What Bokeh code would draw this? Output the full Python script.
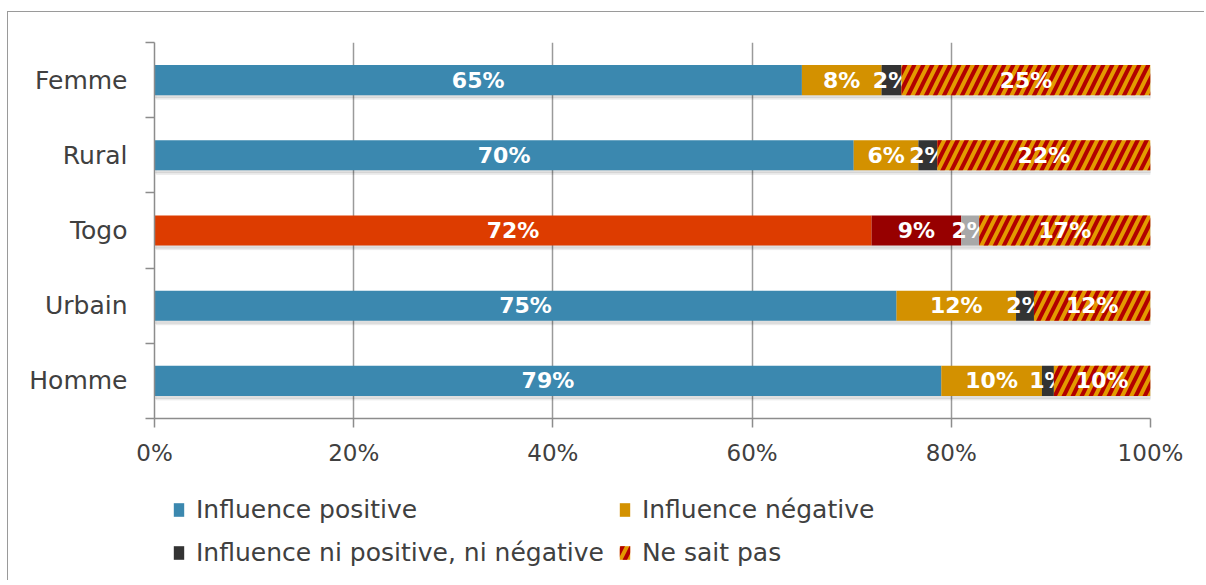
from bokeh.plotting import figure
from bokeh.layouts import column
from bokeh.models import Range1d, FixedTicker, Legend, LegendItem, ColumnDataSource
from bokeh.core.properties import value
from bokeh.embed import file_html
from bokeh.resources import INLINE

# ---- data (top to bottom as displayed) ----
categories = ["Femme", "Rural", "Togo", "Urbain", "Homme"]
positive = [65.0, 70.2, 72.0, 74.5, 79.0]
negative = [8.0, 6.5, 9.0, 12.0, 10.1]
neutral = [2.0, 1.9, 1.8, 1.8, 1.2]
ne_sait_pas = [25.0, 21.4, 17.2, 11.7, 9.7]

positive_lbl = [65, 70, 72, 75, 79]
negative_lbl = [8, 6, 9, 12, 10]
neutral_lbl = [2, 2, 2, 2, 1]
ne_sait_pas_lbl = [25, 22, 17, 12, 10]

series_names = ["Influence positive", "Influence négative",
                "Influence ni positive, ni négative", "Ne sait pas"]
x_ticks = [0, 20, 40, 60, 80, 100]

# ---- styles ----
BLUE, ORANGE, DARK = "#3B88AF", "#D39100", "#333333"
TOGO_RED, TOGO_DARKRED, TOGO_GRAY = "#DD3C00", "#970000", "#A8A8A8"
HATCH_BG, HATCH_FG = "#E39A00", "#B20000"
FONT = "DejaVu Sans"
TEXT_COL = "#404040"
AXIS_COL = "#8C8C8C"
HATCH = dict(hatch_pattern="/", hatch_color=HATCH_FG, hatch_scale=18, hatch_weight=4)

n = len(categories)
ys = [n - 0.5 - i for i in range(n)]
togo = categories.index("Togo")

W = 1196
p = figure(width=W, height=468, x_range=Range1d(0, 100), y_range=Range1d(0, n),
           output_backend="svg", toolbar_location=None,
           min_border_left=146, min_border_right=54, min_border_top=30, min_border_bottom=62)
p.outline_line_color = None

# axes
p.xaxis.ticker = FixedTicker(ticks=x_ticks)
p.xaxis.major_label_overrides = {t: f"{t}%" for t in x_ticks}
p.xaxis.major_tick_out = 9
p.xaxis.major_tick_in = 0
p.xaxis.minor_tick_out = 0
p.xaxis.minor_tick_in = 0
p.xaxis.major_label_standoff = 12

p.yaxis.ticker = FixedTicker(ticks=ys, minor_ticks=list(range(n + 1)))
p.yaxis.major_label_overrides = {y: c for y, c in zip(ys, categories)}
p.yaxis.major_tick_out = 0
p.yaxis.major_tick_in = 0
p.yaxis.minor_tick_out = 9
p.yaxis.minor_tick_in = 0
p.yaxis.major_label_standoff = 18

for ax in (p.xaxis, p.yaxis):
    ax.axis_line_color = AXIS_COL
    ax.axis_line_width = 1.5
    ax.major_tick_line_color = AXIS_COL
    ax.major_tick_line_width = 1.5
    ax.minor_tick_line_color = AXIS_COL
    ax.minor_tick_line_width = 1.5
    ax.major_label_text_font = FONT
    ax.major_label_text_color = TEXT_COL
p.xaxis.major_label_text_font_size = "23px"
p.yaxis.major_label_text_font_size = "25px"

p.ygrid.visible = False
p.xgrid.ticker = FixedTicker(ticks=x_ticks)
p.xgrid.grid_line_color = "#9A9A9A"
p.xgrid.grid_line_width = 1.5

# shadows
H = 0.4
p.hbar(y=[y - 0.035 for y in ys], left=0, right=100, height=H, color="black", alpha=0.08)
p.hbar(y=[y - 0.055 for y in ys], left=0.2, right=100.3, height=H, color="black", alpha=0.05)

# stacked bars
series = [positive, negative, neutral, ne_sait_pas]
labels = [positive_lbl, negative_lbl, neutral_lbl, ne_sait_pas_lbl]
normal_cols = [BLUE, ORANGE, DARK, None]
togo_cols = [TOGO_RED, TOGO_DARKRED, TOGO_GRAY, None]

left = [0.0] * n
for k, vals in enumerate(series):
    right = [l + v for l, v in zip(left, vals)]
    src = ColumnDataSource(dict(
        y=ys, left=left, right=right,
        mid=[(l + r) / 2 for l, r in zip(left, right)],
        txt=[f"{v}%" for v in labels[k]],
        color=[(togo_cols[k] if i == togo else normal_cols[k]) for i in range(n)],
    ))
    if normal_cols[k] is None:
        p.hbar(y="y", left="left", right="right", height=H, source=src,
               fill_color=HATCH_BG, line_color=None, **HATCH)
    else:
        p.hbar(y="y", left="left", right="right", height=H, source=src,
               fill_color="color", line_color=None)
    p.text(x="mid", y="y", text="txt", source=src, text_color="white",
           text_font=value(FONT), text_font_style="bold", text_font_size="22px",
           text_align="center", text_baseline="middle")
    left = right

# ---- legend strip (separate figure so the legend is not clipped) ----
q = figure(width=W, height=100, x_range=Range1d(0, 1), y_range=Range1d(0, 1),
           output_backend="svg", toolbar_location=None,
           x_axis_type=None, y_axis_type=None,
           min_border_left=0, min_border_right=0, min_border_top=0, min_border_bottom=0)
q.outline_line_color = None
q.xgrid.visible = False
q.ygrid.visible = False

leg_renderers = []
for k in range(4):
    if normal_cols[k] is None:
        r = q.hbar(y=[-5], left=[0], right=[1], height=0.5,
                   fill_color=HATCH_BG, line_color=None, **HATCH)
    else:
        r = q.hbar(y=[-5], left=[0], right=[1], height=0.5,
                   fill_color=normal_cols[k], line_color=None)
    leg_renderers.append(r)

order = [0, 2, 1, 3]  # column-major fill: col1 = positive, neutral; col2 = negative, ne sait pas
legend = Legend(items=[LegendItem(label=series_names[k], renderers=[leg_renderers[k]], index=0)
                       for k in order],
                ncols=2, location=(18, 13))
legend.label_text_font = FONT
legend.label_text_font_size = "25px"
legend.label_text_color = TEXT_COL
legend.glyph_width = 13
legend.glyph_height = 17
legend.label_standoff = 11
legend.label_height = 22
legend.spacing = 14
legend.padding = 0
legend.margin = 0
legend.border_line_color = None
legend.background_fill_alpha = 0
q.add_layout(legend)

layout = column(p, q, spacing=0)
layout.styles = {"margin-left": "7px", "margin-top": "11px",
                 "border-left": "1px solid #9A9A9A", "border-top": "1px solid #9A9A9A"}

open("out.html", "w").write(file_html(layout, INLINE))
